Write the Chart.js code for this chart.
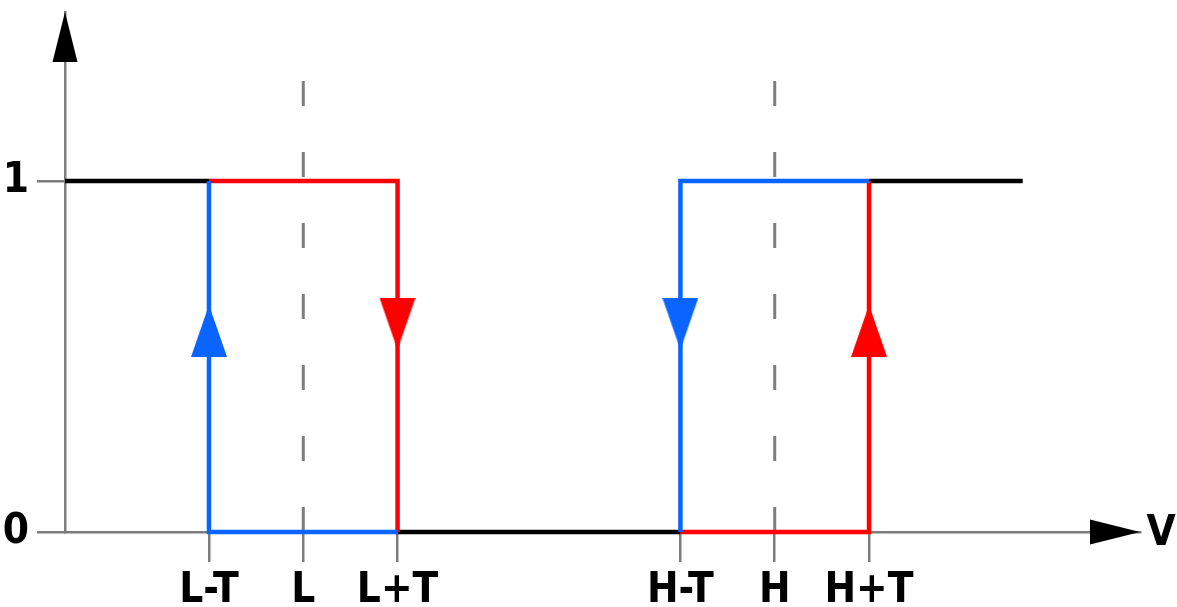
<!DOCTYPE html>
<html><head><meta charset="utf-8">
<script src="https://cdn.jsdelivr.net/npm/chart.js@4.4.0/dist/chart.umd.min.js"></script>
<style>html,body{margin:0;padding:0;background:#fff;overflow:hidden}canvas{display:block}</style>
</head><body>
<canvas id="c" width="1177" height="607"></canvas>
<script>
// ---- data ----
const tickLabels = ['L-T', 'L', 'L+T', 'H-T', 'H', 'H+T'];
const tickValues = [2, 3, 4, 7, 8, 9];
const yTickLabels = ['0', '1'];
const yTickValues = [0, 1];
const blackX = [0.473, 2, null, 4, 7, null, 9, 10.63];
const blackY = [1, 1, null, 0, 0, null, 1, 1];
const blueX = [4, 2, 2, null, 9, 7, 7];
const blueY = [0, 0, 1, null, 1, 1, 0];
const redX = [2, 4, 4, null, 7, 9, 9];
const redY = [1, 1, 0, null, 0, 0, 1];
const dashLX = [3, 3];
const dashHX = [8, 8];
const dashY = [0, 1.288];
const arrowX = [2, 4, 7, 9];
const arrowY = [0.573, 0.593, 0.593, 0.573];
const arrowUp = [true, false, false, true];
const axisName = 'V';

// ---- styles ----
const GRAY = '#7d7d7d';
const BLUE = '#0a64ff';
const RED = '#ff0000';
const FONT = {family: "'Liberation Sans Narrow','Arial Narrow','DejaVu Sans Condensed',sans-serif", weight: 'bold', size: 42};

function pts(xs, ys) {
  return xs.map((x, i) => x === null ? {x: xs[i - 1], y: null} : {x: x, y: ys[i]});
}
function tri(color) {
  const c = document.createElement('canvas');
  c.width = 36; c.height = 52;
  const g = c.getContext('2d');
  g.fillStyle = color;
  g.beginPath(); g.moveTo(18, 0); g.lineTo(36, 52); g.lineTo(0, 52); g.closePath(); g.fill();
  return c;
}
const arrowColors = arrowUp.map((u, i) => (i % 2 === 0) === (i < 2) ? BLUE : RED);
const arrowImgs = arrowX.map((x, i) => tri(i === 0 || i === 2 ? BLUE : RED));

const lineDs = (data, color, extra) => Object.assign({
  data: data, borderColor: color, borderWidth: 4.5, pointRadius: 0, spanGaps: false,
  fill: false, tension: 0, clip: false, borderCapStyle: 'butt', borderJoinStyle: 'miter'
}, extra || {});

const datasets = [
  {
    data: pts(arrowX, arrowY), showLine: false, pointRadius: 2, clip: false,
    pointStyle: arrowImgs, pointRotation: arrowUp.map(u => u ? 0 : 180),
    pointBackgroundColor: 'rgba(0,0,0,0)', pointBorderWidth: 0
  },
  lineDs(pts(blueX, blueY), BLUE),
  lineDs(pts(redX, redY), RED),
  lineDs(pts(blackX, blackY), '#000'),
  lineDs(pts(dashLX, dashY), GRAY, {borderWidth: 3, borderDash: [25, 46]}),
  lineDs(pts(dashHX, dashY), GRAY, {borderWidth: 3, borderDash: [25, 46]})
];

const axisArrows = {
  id: 'axisArrows',
  afterDraw(chart) {
    const {ctx, chartArea: a} = chart;
    ctx.save();
    ctx.fillStyle = '#000';
    ctx.beginPath();
    ctx.moveTo(a.left, a.top); ctx.lineTo(a.left + 12.5, a.top + 50); ctx.lineTo(a.left - 12.5, a.top + 50);
    ctx.closePath(); ctx.fill();
    ctx.beginPath();
    ctx.moveTo(a.right, a.bottom); ctx.lineTo(a.right - 50, a.bottom - 12.5); ctx.lineTo(a.right - 50, a.bottom + 12.5);
    ctx.closePath(); ctx.fill();
    ctx.font = 'bold ' + FONT.size + 'px ' + FONT.family;
    ctx.textAlign = 'center'; ctx.textBaseline = 'middle';
    ctx.fillText(axisName, a.right + 21, a.bottom + 2);
    ctx.restore();
  }
};

new Chart(document.getElementById('c'), {
  type: 'line',
  data: {datasets: datasets},
  options: {
    responsive: false, animation: false, devicePixelRatio: 1,
    layout: {padding: {top: 12, right: 37, left: 0, bottom: 0}},
    plugins: {legend: {display: false}, tooltip: {enabled: false}},
    events: [],
    scales: {
      x: {
        type: 'linear', min: 0.473, max: 11.874,
        afterBuildTicks: s => { s.ticks = tickValues.map(v => ({value: v})); },
        afterFit: s => { s.height = 75; s.paddingLeft = 0; s.paddingRight = 0; },
        ticks: {callback: (v, i) => tickLabels[i], font: FONT, color: '#000', padding: 4, maxRotation: 0, autoSkip: false},
        grid: {drawOnChartArea: false, drawTicks: true, tickLength: 30, color: GRAY, lineWidth: 2.5},
        border: {display: true, color: GRAY, width: 2.5}
      },
      y: {
        type: 'linear', min: 0, max: 1.4815,
        afterBuildTicks: s => { s.ticks = yTickValues.map(v => ({value: v})); },
        afterFit: s => { s.width = 65; s.paddingTop = 0; s.paddingBottom = 0; },
        ticks: {callback: (v, i) => yTickLabels[i], font: FONT, color: '#000', padding: 8},
        grid: {drawOnChartArea: false, drawTicks: true, tickLength: 28, color: GRAY, lineWidth: 2.5},
        border: {display: true, color: GRAY, width: 2.5}
      }
    }
  },
  plugins: [axisArrows]
});
</script>
</body></html>
